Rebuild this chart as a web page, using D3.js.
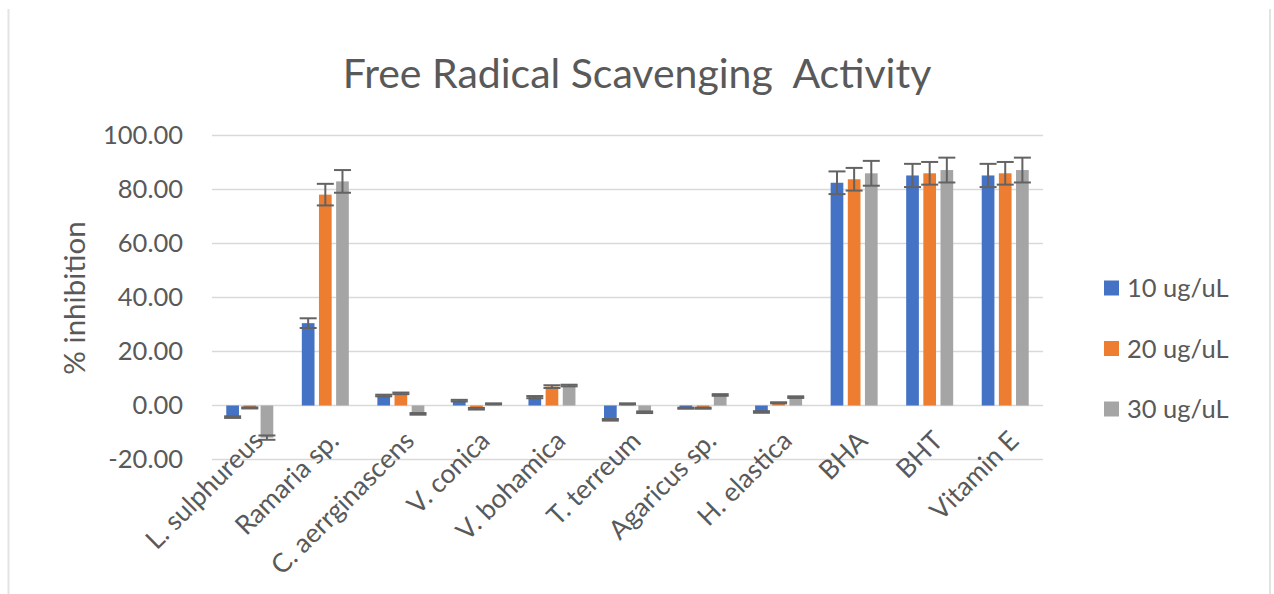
<!DOCTYPE html>
<html>
<head>
<meta charset="utf-8">
<script src="https://cdn.jsdelivr.net/npm/d3@7"></script>
<style>
  html, body { margin: 0; padding: 0; background: #ffffff; }
  svg { display: block; }
  text { font-family: Lato, "Open Sans", sans-serif; fill: #595959; }
</style>
</head>
<body>
<svg id="chart" width="1274" height="594"></svg>
<script>
const categories = ["L. sulphureus", "Ramaria sp.", "C. aerrginascens", "V. conica", "V. bohamica", "T. terreum", "Agaricus sp.", "H. elastica", "BHA", "BHT", "Vitamin E"];
const seriesNames = ["10 ug/uL", "20 ug/uL", "30 ug/uL"];
const values10 = [-4.3, 30.5, 3.7, 1.8, 3.1, -5.3, -1.0, -2.4, 82.5, 85.2, 85.2];
const values20 = [-0.9, 78.1, 4.5, -1.2, 7.0, 0.6, -1.0, 1.0, 83.8, 86.0, 86.0];
const values30 = [-11.9, 83.0, -3.1, 0.6, 7.4, -2.5, 3.9, 3.1, 86.0, 87.2, 87.2];
const errors10 = [0.3, 1.8, 0.3, 0.3, 0.4, 0.3, 0.2, 0.3, 4.2, 4.3, 4.3];
const errors20 = [0.2, 4.0, 0.3, 0.3, 0.5, 0.2, 0.2, 0.2, 4.2, 4.2, 4.2];
const errors30 = [0.8, 4.2, 0.3, 0.2, 0.3, 0.3, 0.3, 0.3, 4.6, 4.6, 4.6];
const yTicks = [-20, 0, 20, 40, 60, 80, 100];
const colors = ["#4472C4", "#ED7D31", "#A5A5A5"];

const seriesValues = [values10, values20, values30];
const seriesErrors = [errors10, errors20, errors30];

const svg = d3.select("#chart");

const plot = { left: 212, right: 1043, top: 135.5, bottom: 459.5 };

const x0 = d3.scaleBand().domain(categories).range([plot.left, plot.right]).padding(0);
const x1 = d3.scaleBand().domain(seriesNames).range([-23.5, 23.5]).paddingInner(0.26);
const y = d3.scaleLinear().domain([-20, 100]).range([plot.bottom, plot.top]);

const fmt = d3.formatLocale({ decimal: ".", thousands: ",", grouping: [3], currency: ["", ""], minus: "-" }).format(".2f");

// outer border lines
svg.append("line").attr("x1", 8.5).attr("x2", 8.5).attr("y1", 9).attr("y2", 594)
  .attr("stroke", "#e3e3e3").attr("stroke-width", 2);
svg.append("line").attr("x1", 1270).attr("x2", 1270).attr("y1", 9).attr("y2", 594)
  .attr("stroke", "#e3e3e3").attr("stroke-width", 2);

// gridlines
svg.append("g").selectAll("line").data(yTicks).join("line")
  .attr("x1", plot.left).attr("x2", plot.right)
  .attr("y1", d => y(d)).attr("y2", d => y(d))
  .attr("stroke", "#d9d9d9").attr("stroke-width", 1.5);

// y axis labels
const yAxis = d3.axisLeft(y).tickValues(yTicks).tickFormat(fmt).tickSize(0).tickPadding(0);
const yg = svg.append("g").attr("transform", `translate(183,0)`).call(yAxis);
yg.select(".domain").remove();
yg.selectAll("text").style("font-family", "Lato, sans-serif").style("font-size", "25.5px").attr("fill", "#595959");

// bars
const groups = svg.append("g").selectAll("g").data(categories).join("g")
  .attr("transform", d => `translate(${x0(d) + x0.bandwidth() / 2},0)`);

seriesNames.forEach((s, si) => {
  groups.append("rect")
    .attr("x", x1(s))
    .attr("width", x1.bandwidth())
    .attr("y", (d, i) => y(Math.max(0, seriesValues[si][i])))
    .attr("height", (d, i) => Math.abs(y(seriesValues[si][i]) - y(0)))
    .attr("fill", colors[si]);
});

// error bars
const capHalf = 8.5;
seriesNames.forEach((s, si) => {
  const cx = x1(s) + x1.bandwidth() / 2;
  const eb = groups.append("g").attr("stroke", "#636363").attr("stroke-width", 2);
  eb.append("line").attr("x1", cx).attr("x2", cx)
    .attr("y1", (d, i) => y(seriesValues[si][i] + seriesErrors[si][i]))
    .attr("y2", (d, i) => y(seriesValues[si][i] - seriesErrors[si][i]));
  eb.append("line").attr("x1", cx - capHalf).attr("x2", cx + capHalf)
    .attr("y1", (d, i) => y(seriesValues[si][i] + seriesErrors[si][i]))
    .attr("y2", (d, i) => y(seriesValues[si][i] + seriesErrors[si][i]));
  eb.append("line").attr("x1", cx - capHalf).attr("x2", cx + capHalf)
    .attr("y1", (d, i) => y(seriesValues[si][i] - seriesErrors[si][i]))
    .attr("y2", (d, i) => y(seriesValues[si][i] - seriesErrors[si][i]));
});

// x category labels
svg.append("g").selectAll("text").data(categories).join("text")
  .attr("transform", d => `translate(${x0(d) + x0.bandwidth() / 2 + 15},${y(0) + 37}) rotate(-45)`)
  .attr("text-anchor", "end")
  .style("font-size", "26.5px")
  .text(d => d);

// title
svg.append("text").attr("x", 637).attr("y", 88).attr("text-anchor", "middle")
  .style("font-size", "41px").style("white-space", "pre").attr("xml:space", "preserve")
  .text("Free Radical Scavenging  Activity");

// y title
svg.append("text").attr("transform", "translate(85,298) rotate(-90)").attr("text-anchor", "middle")
  .style("font-size", "29.5px").text("% inhibition");

// legend
const legend = svg.append("g").selectAll("g").data(seriesNames).join("g")
  .attr("transform", (d, i) => `translate(1104,${288 + i * 60.5})`);
legend.append("rect").attr("x", 0).attr("y", -7.5).attr("width", 15).attr("height", 15)
  .attr("fill", (d, i) => colors[i]);
legend.append("text").attr("x", 23).attr("y", 0).attr("dy", "0.36em")
  .style("font-size", "25.5px").text(d => d);
</script>
</body>
</html>
